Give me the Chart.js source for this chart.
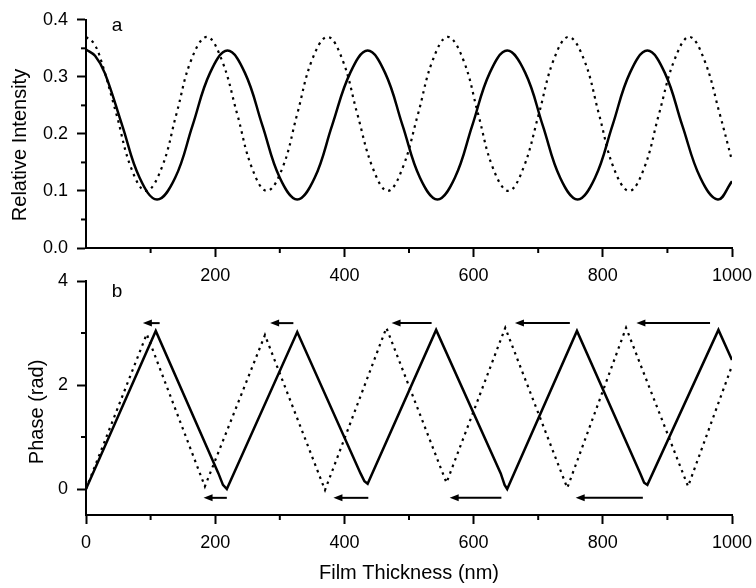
<!DOCTYPE html>
<html>
<head>
<meta charset="utf-8">
<script src="https://cdn.jsdelivr.net/npm/chart.js@4.4.0/dist/chart.umd.min.js"></script>
<style>
  html, body { margin: 0; padding: 0; background: #fff; }
  #wrap { position: relative; width: 756px; height: 588px; }
  canvas { position: absolute; left: 0; }
  #top { top: 0; }
  #bot { top: 255px; }
</style>
</head>
<body>
<div id="wrap">
  <canvas id="top" width="756" height="300" style="width:756px;height:300px"></canvas>
  <canvas id="bot" width="756" height="333" style="width:756px;height:333px"></canvas>
</div>
<script>
// panel a: relative intensity, solid and dotted curves
const intensitySolidX = [0, 14, 29, 56, 83, 110, 138, 165, 192, 219, 246, 273, 300, 327, 354, 381, 409,
  436, 463, 490, 517, 544, 571, 598, 625, 652, 680, 707, 734, 761, 788, 815, 842, 869, 896, 923,
  951, 978, 1000];
const intensitySolid = [0.348, 0.337, 0.307, 0.215, 0.123, 0.085, 0.123, 0.215, 0.307, 0.346, 0.307, 0.215,
  0.123, 0.085, 0.123, 0.215, 0.307, 0.346, 0.307, 0.215, 0.123, 0.085, 0.123, 0.215, 0.307, 0.346,
  0.307, 0.215, 0.123, 0.085, 0.123, 0.215, 0.307, 0.346, 0.307, 0.215, 0.123, 0.085, 0.117];

const intensityDotX = [0, 12, 23, 47, 70, 93, 117, 140, 163, 187, 210, 234, 257, 280, 304, 327, 350,
  374, 397, 420, 444, 467, 490, 514, 537, 560, 584, 607, 630, 654, 677, 701, 724, 747, 771, 794,
  817, 841, 864, 887, 911, 934, 957, 981, 1000];
const intensityDot = [0.37, 0.359, 0.33, 0.235, 0.14, 0.10, 0.14, 0.235, 0.33, 0.37, 0.33, 0.235, 0.14,
  0.10, 0.14, 0.235, 0.33, 0.37, 0.33, 0.235, 0.14, 0.10, 0.14, 0.235, 0.33, 0.37, 0.33, 0.235,
  0.14, 0.10, 0.14, 0.235, 0.33, 0.37, 0.33, 0.235, 0.14, 0.10, 0.14, 0.235, 0.33, 0.37, 0.33,
  0.235, 0.153];

// panel b: phase, solid and dotted
const phaseSolidX = [0, 108, 205, 212, 218, 327, 425, 431, 436, 542, 642, 648, 652, 760, 858, 864,
  869, 979, 1000];
const phaseSolid = [0, 3.04, 0.3, 0.08, 0, 3.02, 0.3, 0.15, 0.1, 3.06, 0.3, 0.08, 0, 3.04, 0.3,
  0.12, 0.08, 3.06, 2.48];

const phaseDotX = [0, 94, 184, 277, 370, 465, 558, 649, 745, 836, 932, 1000];
const phaseDot = [0, 2.98, 0.05, 2.96, -0.02, 3.1, 0.12, 3.1, 0.02, 3.1, 0.05, 2.37];

// arrows in panel b (tail -> head, pointing left)
const arrowTopTail = [114, 321, 535, 749, 966];
const arrowTopHead = [88, 285, 473, 664, 852];
const arrowTopY = 3.19;
const arrowLowTail = [218, 437, 643, 862];
const arrowLowHead = [182, 383, 563, 758];
const arrowLowY = -0.17;

// tick labels
const thicknessTicks = [0, 200, 400, 600, 800, 1000];
const thicknessMinor = [100, 300, 500, 700, 900];
const intensityTicks = [0.0, 0.1, 0.2, 0.3, 0.4];
const intensityMinor = [0.05, 0.15, 0.25, 0.35];
const phaseTicks = [0, 2, 4];
const phaseMinor = [1, 3];

const FONT = "'Liberation Sans', Arial, sans-serif";
const tickFont = { family: FONT, size: 18 };
const titleFont = { family: FONT, size: 20 };

function pts(xs, ys) { return xs.map((x, i) => ({ x: x, y: ys[i] })); }

const extras = {
  id: 'extras',
  afterDraw(chart, args, opts) {
    const ctx = chart.ctx, xs = chart.scales.x, ys = chart.scales.y;
    ctx.save();
    ctx.strokeStyle = '#000';
    ctx.fillStyle = '#000';
    ctx.lineWidth = 2;
    (opts.minorX || []).forEach(v => {
      const px = xs.getPixelForValue(v);
      ctx.beginPath(); ctx.moveTo(px, xs.top); ctx.lineTo(px, xs.top + 5); ctx.stroke();
    });
    (opts.minorY || []).forEach(v => {
      const py = ys.getPixelForValue(v);
      ctx.beginPath(); ctx.moveTo(ys.right, py); ctx.lineTo(ys.right - 5, py); ctx.stroke();
    });
    (opts.arrows || []).forEach(a => {
      a.tail.forEach((t, i) => {
        const x1 = xs.getPixelForValue(t), x2 = xs.getPixelForValue(a.head[i]);
        const py = ys.getPixelForValue(a.y);
        ctx.beginPath(); ctx.moveTo(x1, py); ctx.lineTo(x2 + 6, py); ctx.stroke();
        ctx.beginPath();
        ctx.moveTo(x2, py); ctx.lineTo(x2 + 9, py - 3.5); ctx.lineTo(x2 + 9, py + 3.5);
        ctx.closePath(); ctx.fill();
      });
    });
    if (opts.label) {
      ctx.font = '19px ' + FONT;
      ctx.textAlign = 'center';
      ctx.textBaseline = 'alphabetic';
      ctx.fillText(opts.label.text, xs.getPixelForValue(opts.label.x), ys.getPixelForValue(opts.label.y));
    }
    ctx.restore();
  }
};

function xAxis(height, showTitle, dropZero) {
  return {
    type: 'linear', min: 0, max: 1000,
    afterBuildTicks: s => {
      s.ticks = thicknessTicks.filter(v => !(dropZero && v === 0)).map(v => ({ value: v }));
    },
    afterFit: s => { s.height = height; s.paddingLeft = 0; s.paddingRight = 0; },
    ticks: { color: '#000', font: tickFont, padding: 8, maxRotation: 0, autoSkip: false,
      callback: v => String(v) },
    grid: { drawOnChartArea: false, tickLength: 9, tickWidth: 2, tickColor: '#000' },
    border: { color: '#000', width: 2 },
    title: { display: showTitle, text: 'Film Thickness (nm)', color: '#000', font: titleFont,
      padding: { top: 0, bottom: 3 } }
  };
}

new Chart(document.getElementById('top'), {
  type: 'line',
  data: {
    datasets: [
      { data: pts(intensitySolidX, intensitySolid), borderColor: '#000', borderWidth: 2.5,
        pointRadius: 0, tension: 0.4, fill: false },
      { data: pts(intensityDotX, intensityDot), borderColor: '#000', borderWidth: 2.2,
        borderDash: [2.5, 4.5], pointRadius: 0, tension: 0.4, fill: false }
    ]
  },
  options: {
    responsive: false, animation: false,
    layout: { padding: { top: 16, right: 24, bottom: 12, left: 0 } },
    plugins: {
      legend: { display: false }, tooltip: { enabled: false },
      extras: { minorX: thicknessMinor, minorY: intensityMinor, label: { text: 'a', x: 48, y: 0.381 } }
    },
    scales: {
      x: xAxis(40, false, true),
      y: {
        min: 0, max: 0.4,
        afterBuildTicks: s => { s.ticks = intensityTicks.map(v => ({ value: v })); },
        afterFit: s => { s.width = 86; },
        ticks: { color: '#000', font: tickFont, padding: 9, callback: v => v.toFixed(1) },
        grid: { drawOnChartArea: false, tickLength: 9, tickWidth: 2, tickColor: '#000' },
        border: { color: '#000', width: 2 },
        title: { display: true, text: 'Relative Intensity    ', color: '#000', font: titleFont,
          padding: { top: 8, bottom: 0 } }
      }
    }
  },
  plugins: [extras]
});

new Chart(document.getElementById('bot'), {
  type: 'line',
  data: {
    datasets: [
      { data: pts(phaseSolidX, phaseSolid), borderColor: '#000', borderWidth: 2.5,
        pointRadius: 0, tension: 0, fill: false },
      { data: pts(phaseDotX, phaseDot), borderColor: '#000', borderWidth: 2.2,
        borderDash: [2.5, 4.5], pointRadius: 0, tension: 0, fill: false }
    ]
  },
  options: {
    responsive: false, animation: false,
    layout: { padding: { top: 26, right: 24, bottom: 0, left: 0 } },
    plugins: {
      legend: { display: false }, tooltip: { enabled: false },
      extras: {
        minorX: thicknessMinor, minorY: phaseMinor,
        arrows: [
          { tail: arrowTopTail, head: arrowTopHead, y: arrowTopY },
          { tail: arrowLowTail, head: arrowLowHead, y: arrowLowY }
        ],
        label: { text: 'b', x: 48, y: 3.69 }
      }
    },
    scales: {
      x: xAxis(73, true, false),
      y: {
        min: -0.5, max: 4,
        afterBuildTicks: s => { s.ticks = phaseTicks.map(v => ({ value: v })); },
        afterFit: s => { s.width = 86; },
        ticks: { color: '#000', font: tickFont, padding: 9 },
        grid: { drawOnChartArea: false, tickLength: 9, tickWidth: 2, tickColor: '#000' },
        border: { color: '#000', width: 2 },
        title: { display: true, text: 'Phase (rad)     ', color: '#000', font: titleFont,
          padding: { top: 25, bottom: 0 } }
      }
    }
  },
  plugins: [extras]
});
</script>
</body>
</html>
